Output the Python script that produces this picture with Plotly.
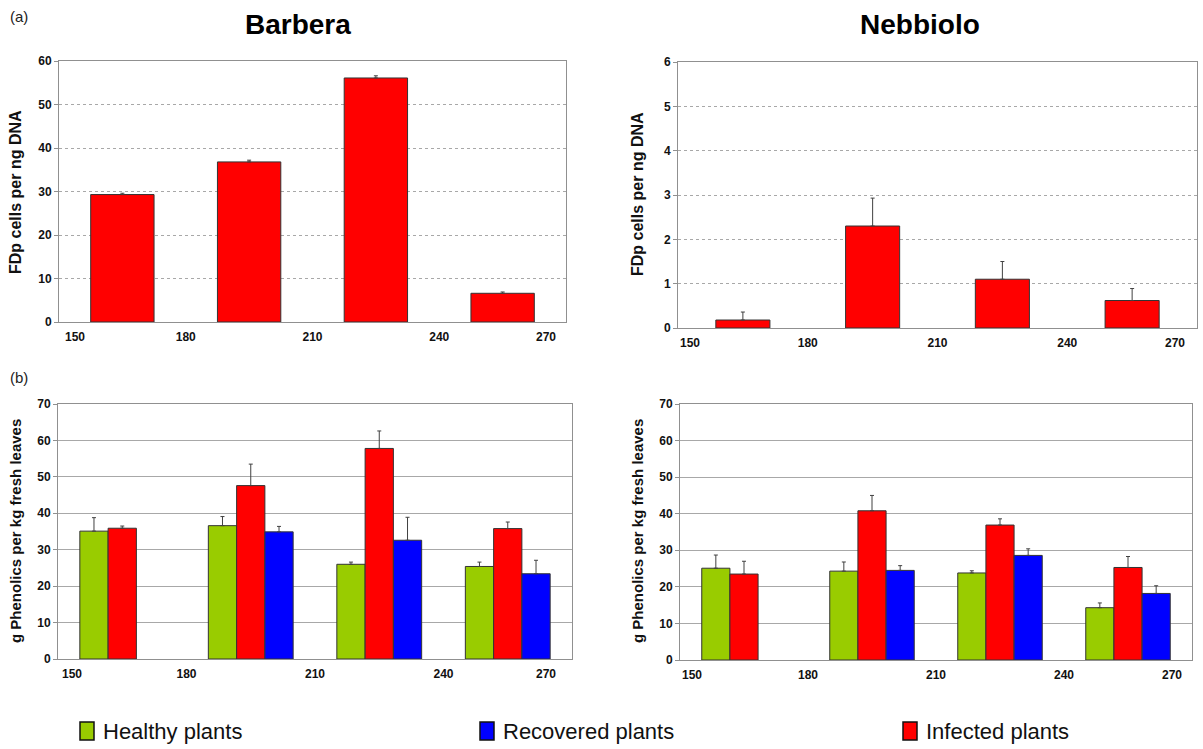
import plotly.graph_objects as go

# Sampling day of year (bar positions) and axis ticks
days = [165, 195, 225, 255]
day_ticks = [150, 180, 210, 240, 270]

# (a) FDp phytoplasma load in infected plants
barbera_fdp = [29.3, 36.8, 56.1, 6.6]
barbera_fdp_err = [0.3, 0.4, 0.5, 0.3]
nebbiolo_fdp = [0.18, 2.3, 1.1, 0.62]
nebbiolo_fdp_err = [0.18, 0.63, 0.4, 0.27]

# (b) total phenolics, g per kg fresh leaves
barbera_healthy = [35.1, 36.6, 26.0, 25.4]
barbera_healthy_err = [3.7, 2.5, 0.6, 1.2]
barbera_infected = [35.9, 47.6, 57.8, 35.8]
barbera_infected_err = [0.6, 5.9, 4.8, 1.8]
barbera_recovered = [None, 34.9, 32.6, 23.4]
barbera_recovered_err = [0, 1.5, 6.3, 3.7]

nebbiolo_healthy = [25.1, 24.3, 23.8, 14.3]
nebbiolo_healthy_err = [3.6, 2.5, 0.6, 1.3]
nebbiolo_infected = [23.5, 40.8, 36.9, 25.3]
nebbiolo_infected_err = [3.5, 4.2, 1.7, 3.0]
nebbiolo_recovered = [None, 24.5, 28.6, 18.2]
nebbiolo_recovered_err = [0, 1.3, 1.8, 2.1]

# Legend entries, in display order
legend_names = ["Healthy plants", "Recovered plants", "Infected plants"]

GREEN = "#99CC00"
RED = "#FF0000"
BLUE = "#0000FF"
OUTLINE = "#333333"
FONT = "Liberation Sans, Arial, sans-serif"
COLORS = {"Healthy plants": GREEN, "Infected plants": RED,
          "Recovered plants": BLUE}


def errs(vals):
    return dict(type="data", array=vals, symmetric=False,
                arrayminus=[0] * len(vals), color="#404040",
                thickness=1, width=2)


fig = go.Figure()

# Top row: single red bars per sampling date
fig.add_trace(go.Bar(x=days, y=barbera_fdp, width=15, offset=-7.5,
                     marker=dict(color=RED, line=dict(color=OUTLINE, width=1)),
                     error_y=errs(barbera_fdp_err), xaxis="x", yaxis="y",
                     name="Infected plants"))
fig.add_trace(go.Bar(x=days, y=nebbiolo_fdp, width=12.5, offset=-6.25,
                     marker=dict(color=RED, line=dict(color=OUTLINE, width=1)),
                     error_y=errs(nebbiolo_fdp_err), xaxis="x2", yaxis="y2",
                     name="Infected plants"))

# Bottom row: healthy / infected / recovered side by side
bw = 6.6
offsets = {"Healthy plants": -1.5 * bw, "Infected plants": -0.5 * bw,
           "Recovered plants": 0.5 * bw}
barbera_vals = {
    "Healthy plants": (barbera_healthy, barbera_healthy_err),
    "Infected plants": (barbera_infected, barbera_infected_err),
    "Recovered plants": (barbera_recovered, barbera_recovered_err),
}
nebbiolo_vals = {
    "Healthy plants": (nebbiolo_healthy, nebbiolo_healthy_err),
    "Infected plants": (nebbiolo_infected, nebbiolo_infected_err),
    "Recovered plants": (nebbiolo_recovered, nebbiolo_recovered_err),
}
for name in ["Healthy plants", "Infected plants", "Recovered plants"]:
    for vals_map, xa, ya in [(barbera_vals, "x3", "y3"),
                             (nebbiolo_vals, "x4", "y4")]:
        vals, e = vals_map[name]
        fig.add_trace(go.Bar(x=days, y=vals, width=bw, offset=offsets[name],
                             name=name,
                             marker=dict(color=COLORS[name],
                                         line=dict(color=OUTLINE, width=1)),
                             error_y=errs(e), xaxis=xa, yaxis=ya))

W, H = 1203, 749


def xdom(a, b):
    return [a / W, b / W]


def ydom(top, bottom):
    return [1 - bottom / H, 1 - top / H]


# inner ticks labelled by the axis; the two end labels are tucked inside
# the frame as annotations further down
inner_text = ["" if t in (day_ticks[0], day_ticks[-1]) else str(t)
              for t in day_ticks]
TICKFONT = dict(family=FONT, size=12, color="#111", weight="bold")


def xaxis(domain, anchor):
    return dict(domain=domain, anchor=anchor, range=[150, 270],
                tickvals=day_ticks, ticktext=inner_text, ticks="",
                ticklabelstandoff=4,
                showgrid=False, zeroline=False, showline=True,
                linecolor="#909090", linewidth=1, mirror=True,
                tickfont=TICKFONT, automargin=False, fixedrange=True)


def yaxis(domain, anchor, top, step, dash):
    return dict(domain=domain, anchor=anchor, range=[0, top], dtick=step,
                showgrid=True, gridcolor="#A8A8A8", griddash=dash, gridwidth=1,
                zeroline=False, showline=True, linecolor="#909090", linewidth=1,
                mirror=True, ticks="outside", ticklen=4, tickcolor="#909090",
                tickfont=TICKFONT, automargin=False, fixedrange=True)


fig.update_layout(
    width=W, height=H,
    margin=dict(l=0, r=0, t=0, b=0, autoexpand=False),
    paper_bgcolor="white", plot_bgcolor="white",
    barmode="overlay",
    showlegend=False,
    xaxis=xaxis(xdom(59, 566), "y"),
    yaxis=yaxis(ydom(61, 322), "x", 60, 10, "dot"),
    xaxis2=xaxis(xdom(678, 1197), "y2"),
    yaxis2=yaxis(ydom(62, 328), "x2", 6, 1, "dot"),
    xaxis3=xaxis(xdom(58, 572), "y3"),
    yaxis3=yaxis(ydom(404, 659), "x3", 70, 10, "solid"),
    xaxis4=xaxis(xdom(680, 1192), "y4"),
    yaxis4=yaxis(ydom(404, 660), "x4", 70, 10, "solid"),
)

ann = []
ann.append(dict(text="<b>Barbera</b>", x=298 / W, y=1 - 24 / H,
                font=dict(family=FONT, size=28, color="black")))
ann.append(dict(text="<b>Nebbiolo</b>", x=920 / W, y=1 - 24 / H,
                font=dict(family=FONT, size=28, color="black")))
ann.append(dict(text="(a)", x=19 / W, y=1 - 16 / H,
                font=dict(family=FONT, size=15, color="#222")))
ann.append(dict(text="(b)", x=19 / W, y=1 - 378 / H,
                font=dict(family=FONT, size=15, color="#222")))
ann.append(dict(text="<b>FDp cells per ng DNA</b>", x=16 / W, y=1 - 192 / H,
                textangle=-90, font=dict(family=FONT, size=16, color="#111")))
ann.append(dict(text="<b>FDp cells per ng DNA</b>", x=637 / W, y=1 - 194 / H,
                textangle=-90, font=dict(family=FONT, size=16, color="#111")))
ann.append(dict(text="<b>g Phenolics per kg fresh leaves</b>", x=15 / W,
                y=1 - 531 / H, textangle=-90,
                font=dict(family=FONT, size=15, color="#111")))
ann.append(dict(text="<b>g Phenolics per kg fresh leaves</b>", x=637 / W,
                y=1 - 531 / H, textangle=-90,
                font=dict(family=FONT, size=15, color="#111")))
for a in ann:
    a.update(xref="paper", yref="paper", showarrow=False,
             xanchor="center", yanchor="middle")

# End tick labels of each day axis, nudged inside the frame
end_shift = {"x": (4, -8), "x2": (0, -10), "x3": (2, -14), "x4": (0, -8)}
for xa, (lshift, rshift) in end_shift.items():
    ya = "y" + xa[1:]
    ann.append(dict(text=str(day_ticks[0]), x=day_ticks[0], xref=xa,
                    y=0, yref=ya + " domain", xanchor="left", yanchor="top",
                    xshift=lshift, yshift=-6, showarrow=False, font=TICKFONT))
    ann.append(dict(text=str(day_ticks[-1]), x=day_ticks[-1], xref=xa,
                    y=0, yref=ya + " domain", xanchor="right", yanchor="top",
                    xshift=rshift, yshift=-6, showarrow=False, font=TICKFONT))

# Key along the bottom: a swatch and a label per plant group
key_left = [80, 480, 903]
shapes = []
for name, left in zip(legend_names, key_left):
    shapes.append(dict(type="rect", xref="paper", yref="paper",
                       x0=left / W, x1=(left + 14) / W,
                       y0=1 - 740 / H, y1=1 - 722 / H,
                       fillcolor=COLORS[name],
                       line=dict(color="#111111", width=1.5)))
    ann.append(dict(text=name, x=(left + 21) / W, y=1 - 731 / H,
                    xref="paper", yref="paper", showarrow=False,
                    xanchor="left", yanchor="middle",
                    font=dict(family=FONT, size=22, color="#111")))

fig.update_layout(annotations=ann, shapes=shapes)

fig.write_html("out.html")
